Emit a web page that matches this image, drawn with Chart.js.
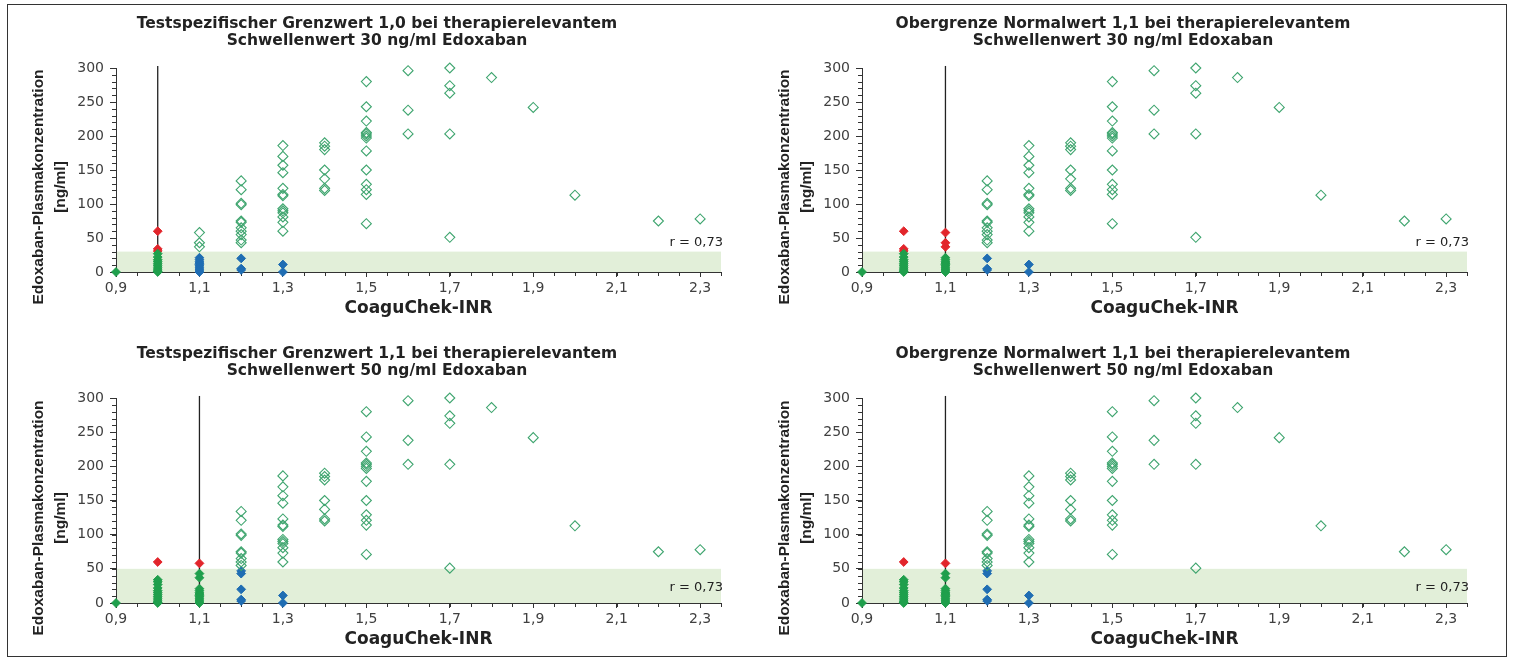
<!DOCTYPE html>
<html><head><meta charset="utf-8">
<script src="https://cdn.jsdelivr.net/npm/chart.js@4.4.1/dist/chart.umd.min.js"></script>
<style>
html,body{margin:0;padding:0;background:#fff;}
body{width:1514px;height:661px;position:relative;overflow:hidden;}
#frame{position:absolute;left:7px;top:4px;width:1498px;height:651px;border:1px solid #333;box-sizing:content-box;}
canvas{position:absolute;}
</style></head><body>
<div id="frame"></div>
<canvas id="c0" width="740" height="320" style="left:12px;top:8px"></canvas>
<canvas id="c1" width="740" height="320" style="left:758px;top:8px"></canvas>
<canvas id="c2" width="740" height="318" style="left:12px;top:335px"></canvas>
<canvas id="c3" width="740" height="318" style="left:758px;top:335px"></canvas>
<script>
// ---- data ----
const inrLevels = [0.9, 1.0, 1.1, 1.2, 1.3, 1.4, 1.5, 1.6, 1.7, 1.8, 1.9, 2.0, 2.2, 2.3];
const concentrations = [
  [0],
  [60, 34, 31, 27, 22, 18, 15, 12, 9, 6, 3, 1, 0],
  [58, 43, 37, 21, 18, 15, 13, 11, 9, 6, 3, 0],
  [134, 121, 101, 99, 75, 73, 65, 60, 55, 47, 43, 20, 5, 3],
  [186, 170, 157, 146, 123, 114, 112, 93, 90, 87, 81, 73, 60, 11, 0],
  [190, 185, 180, 150, 137, 123, 120],
  [280, 243, 222, 205, 203, 200, 197, 178, 150, 129, 121, 114, 71],
  [296, 238, 203],
  [300, 274, 263, 203, 51],
  [286],
  [242],
  [113],
  [75],
  [78]
];
const panelTitles = [
  ['Testspezifischer Grenzwert 1,0 bei therapierelevantem', 'Schwellenwert 30 ng/ml Edoxaban'],
  ['Obergrenze Normalwert 1,1 bei therapierelevantem', 'Schwellenwert 30 ng/ml Edoxaban'],
  ['Testspezifischer Grenzwert 1,1 bei therapierelevantem', 'Schwellenwert 50 ng/ml Edoxaban'],
  ['Obergrenze Normalwert 1,1 bei therapierelevantem', 'Schwellenwert 50 ng/ml Edoxaban']
];
const inrCutoffs = [1.0, 1.1, 1.1, 1.1];
const concThresholds = [30, 30, 50, 50];
const xTickValues = [0.9, 1.1, 1.3, 1.5, 1.7, 1.9, 2.1, 2.3];
const yTickValues = [0, 50, 100, 150, 200, 250, 300];
const xAxisTitle = 'CoaguChek-INR';
const yAxisTitle = ['Edoxaban-Plasmakonzentration', '[ng/ml]'];
const corrLabel = 'r = 0,73';

// ---- layout (positions/styles) ----
const layouts = [
  {padTop: 60, padRight: 31, yW: 104, xH: 56, rOff: 29},
  {padTop: 60, padRight: 31, yW: 104, xH: 56, rOff: 29},
  {padTop: 63, padRight: 31, yW: 104, xH: 50, rOff: 15},
  {padTop: 63, padRight: 31, yW: 104, xH: 50, rOff: 15}
];
const COL = {band:'#e2efd9', hollow:'#3fa56f', green:'#1f9f4c', blue:'#1f6db3', red:'#e2252b', axis:'#333', text:'#222'};

const decor = {
  id: 'decor',
  beforeDraw(chart, args, o) {
    const {ctx, chartArea: a, scales: {x, y}} = chart;
    ctx.save();
    ctx.fillStyle = COL.band;
    const yT = y.getPixelForValue(o.threshold), y0 = y.getPixelForValue(0);
    ctx.fillRect(a.left, yT, a.right - a.left, y0 - yT);
    ctx.restore();
  },
  beforeDatasetsDraw(chart, args, o) {
    const {ctx, chartArea: a, scales: {x, y}} = chart;
    ctx.save();
    ctx.strokeStyle = COL.axis; ctx.lineWidth = 1;
    ctx.beginPath();
    for (let v = 0; v <= 300; v += 10) {
      const py = Math.round(y.getPixelForValue(v)) + 0.5;
      ctx.moveTo(a.left - 4, py); ctx.lineTo(a.left, py);
    }
    for (let i = 0; i * 0.05 <= 1.4501; i++) {
      const px = Math.round(x.getPixelForValue(0.9 + i * 0.05)) + 0.5;
      ctx.moveTo(px, a.bottom); ctx.lineTo(px, a.bottom + 4);
    }
    ctx.stroke();
    const xc = x.getPixelForValue(o.cutoff);
    ctx.strokeStyle = '#222'; ctx.lineWidth = 1.3;
    ctx.beginPath();
    ctx.moveTo(xc, y.getPixelForValue(0));
    ctx.lineTo(xc, y.getPixelForValue(303));
    ctx.stroke();
    ctx.restore();
  },
  afterDraw(chart, args, o) {
    const {ctx, chartArea: a} = chart;
    ctx.save();
    ctx.fillStyle = COL.text;
    ctx.textBaseline = 'middle';
    ctx.textAlign = 'center';
    ctx.font = 'bold 15.5px "DejaVu Sans"';
    const cx = a.left + 261;
    ctx.fillText(o.title[0], cx, a.top - 44);
    ctx.fillText(o.title[1], cx, a.top - 27);
    ctx.font = 'bold 17px "DejaVu Sans"';
    ctx.fillText(xAxisTitle, (a.left + a.right) / 2, a.bottom + 37);
    ctx.font = 'bold 15.5px "Liberation Sans"';
    ctx.save();
    ctx.translate(a.left - 77, a.bottom - 85);
    ctx.rotate(-Math.PI / 2);
    ctx.fillText(yAxisTitle[0], 0, 0);
    ctx.restore();
    ctx.save();
    ctx.translate(a.left - 55, a.bottom - 85);
    ctx.rotate(-Math.PI / 2);
    ctx.fillText(yAxisTitle[1], 0, 0);
    ctx.restore();
    ctx.font = '13px "DejaVu Sans"';
    ctx.textAlign = 'right';
    ctx.fillText(corrLabel, a.right + 2, a.bottom - o.rOff);
    ctx.restore();
  }
};

function buildPoints(cutoff, thr) {
  const groups = {tp: [], fp: [], tn: [], fn: []};
  inrLevels.forEach((inr, i) => {
    concentrations[i].forEach(c => {
      const pos = inr > cutoff + 1e-9;
      const high = c >= thr;
      const key = pos ? (high ? 'tp' : 'fp') : (high ? 'fn' : 'tn');
      groups[key].push({x: inr, y: c});
    });
  });
  return groups;
}

[0, 1, 2, 3].forEach(p => {
  const L = layouts[p];
  const g = buildPoints(inrCutoffs[p], concThresholds[p]);
  const ds = (data, fill, border, r, bw) => ({
    data, pointStyle: 'rectRot', pointRadius: r, pointHoverRadius: r,
    backgroundColor: fill, borderColor: border, borderWidth: bw, clip: false, showLine: false
  });
  new Chart(document.getElementById('c' + p), {
    type: 'scatter',
    data: {datasets: [
      ds(g.tp, 'rgba(255,255,255,0)', COL.hollow, 5, 1.1),
      ds(g.tn, COL.green, COL.green, 4.4, 1),
      ds(g.fp, COL.blue, COL.blue, 4.4, 1),
      ds(g.fn, COL.red, COL.red, 4.4, 1)
    ]},
    plugins: [decor],
    options: {
      responsive: false, animation: false, devicePixelRatio: 1,
      layout: {padding: {top: L.padTop, right: L.padRight, left: 0, bottom: 0}},
      plugins: {
        legend: {display: false}, tooltip: {enabled: false},
        decor: {title: panelTitles[p], cutoff: inrCutoffs[p], threshold: concThresholds[p], rOff: L.rOff}
      },
      scales: {
        x: {
          type: 'linear', min: 0.9, max: 2.35,
          afterBuildTicks: s => { s.ticks = xTickValues.map(v => ({value: v})); },
          afterFit: s => { s.height = L.xH; },
          grid: {drawOnChartArea: false, tickLength: 5, color: COL.axis},
          border: {color: COL.axis, width: 1},
          ticks: {autoSkip: false, maxRotation: 0, padding: 3, color: '#404040',
                  font: {family: 'DejaVu Sans', size: 14},
                  callback: v => v.toFixed(1).replace('.', ',')}
        },
        y: {
          type: 'linear', min: 0, max: 300,
          afterBuildTicks: s => { s.ticks = yTickValues.map(v => ({value: v})); },
          afterFit: s => { s.width = L.yW; },
          grid: {drawOnChartArea: false, tickLength: 6, color: COL.axis},
          border: {color: COL.axis, width: 1},
          ticks: {padding: 6, color: '#404040', font: {family: 'DejaVu Sans', size: 14},
                  callback: v => String(v)}
        }
      }
    }
  });
});
</script>
</body></html>
